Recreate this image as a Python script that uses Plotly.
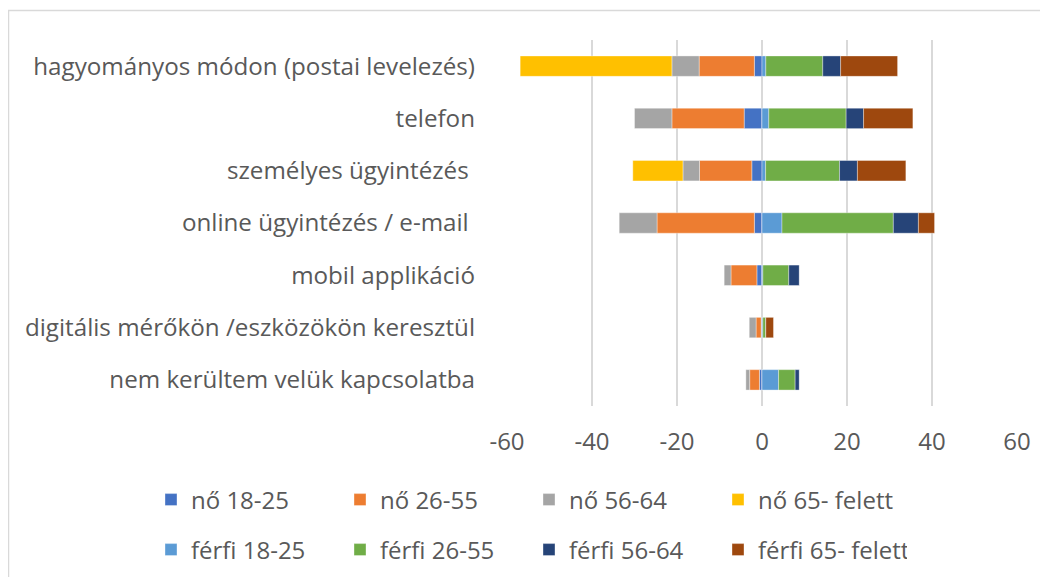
import plotly.graph_objects as go

categories = [
    "hagyományos módon (postai levelezés)",
    "telefon",
    "személyes ügyintézés ",
    "online ügyintézés / e-mail ",
    "mobil applikáció",
    "digitális mérőkön /eszközökön keresztül",
    "nem kerültem velük kapcsolatba",
]

# women (shown to the left, negative)
no_18_25 = [-1.8, -4.2, -2.4, -1.8, -1.2, -0.2, -0.6]
no_26_55 = [-13.0, -17.0, -12.3, -22.9, -6.1, -1.2, -2.3]
no_56_64 = [-6.4, -8.8, -3.9, -8.9, -1.6, -1.6, -0.9]
no_65 = [-35.7, 0.0, -11.8, 0.0, 0.0, 0.0, 0.0]
# men (shown to the right, positive)
ferfi_18_25 = [0.9, 1.6, 0.85, 4.7, 0.2, 0.2, 3.9]
ferfi_26_55 = [13.4, 18.2, 17.4, 26.2, 6.1, 0.7, 3.9]
ferfi_56_64 = [4.2, 4.1, 4.2, 5.9, 2.5, 0.0, 1.0]
ferfi_65 = [13.4, 11.6, 11.4, 3.8, 0.0, 1.8, 0.0]

tick_vals = [-60, -40, -20, 0, 20, 40, 60]
tick_text = ["-60", "-40", "-20", "0", "20", "40", "60"]

series = [
    ("nő 18-25", no_18_25, "#4472C4", "legend"),
    ("nő 26-55", no_26_55, "#ED7D31", "legend"),
    ("nő 56-64", no_56_64, "#A5A5A5", "legend"),
    ("nő 65- felett", no_65, "#FFC000", "legend"),
    ("férfi 18-25", ferfi_18_25, "#5B9BD5", "legend2"),
    ("férfi 26-55", ferfi_26_55, "#70AD47", "legend2"),
    ("férfi 56-64", ferfi_56_64, "#264478", "legend2"),
    ("férfi 65- felett", ferfi_65, "#9E480E", "legend2"),
]

FONT = "Open Sans"
TXT = "#595959"

fig = go.Figure()
for name, vals, color, lg in series:
    fig.add_trace(go.Bar(
        y=categories, x=vals, name=name, orientation="h",
        marker=dict(color=color, line=dict(color="rgba(255,255,255,0.6)", width=0.6)),
        legend=lg,
    ))

# page body has an 8px margin; positions below are in screen pixels
W, H = 1048, 577
OFF = 8
L, T = 507 - OFF, 40 - OFF
PR, PB = 1017 - OFF, 406 - OFF
R, B = W - PR, H - PB
pw, ph = PR - L, PB - T

def px_to_paper_x(px):
    return (px - OFF - L) / pw

def px_to_paper_y(py):
    return (PB - (py - OFF)) / ph

legend_common = dict(
    orientation="h", xanchor="left", yanchor="middle",
    font=dict(family=FONT, size=24, color=TXT),
    entrywidth=144, entrywidthmode="pixels",
    bgcolor="rgba(0,0,0,0)", traceorder="normal",
)

fig.update_layout(
    width=W, height=H,
    margin=dict(l=L, r=R, t=T, b=B, autoexpand=False),
    barmode="relative",
    bargap=0.61,
    paper_bgcolor="white", plot_bgcolor="white",
    font=dict(family=FONT, size=24, color=TXT),
    legend=dict(x=px_to_paper_x(151), y=px_to_paper_y(500), **legend_common),
    legend2=dict(x=px_to_paper_x(151), y=px_to_paper_y(550), **legend_common),
    xaxis=dict(
        range=[-60, 60], tickvals=tick_vals, ticktext=tick_text,
        showgrid=True, gridcolor="#D9D9D9", gridwidth=1.5,
        zeroline=True, zerolinecolor="#D9D9D9", zerolinewidth=1.5,
        ticks="", ticklabelstandoff=19, automargin=False,
        tickfont=dict(family=FONT, size=24, color=TXT),
        showline=False,
    ),
    yaxis=dict(
        autorange="reversed", categoryorder="array", categoryarray=categories,
        ticks="", ticklabelstandoff=31, showgrid=False, automargin=False,
        tickfont=dict(family=FONT, size=24.2, color=TXT),
    ),
    shapes=[dict(
        type="rect", xref="paper", yref="paper",
        x0=px_to_paper_x(8.5), x1=px_to_paper_x(1070),
        y0=px_to_paper_y(600), y1=px_to_paper_y(10.5),
        line=dict(color="#D9D9D9", width=1.5), fillcolor="rgba(0,0,0,0)", layer="below",
    )],
)

fig.write_html("out.html")
